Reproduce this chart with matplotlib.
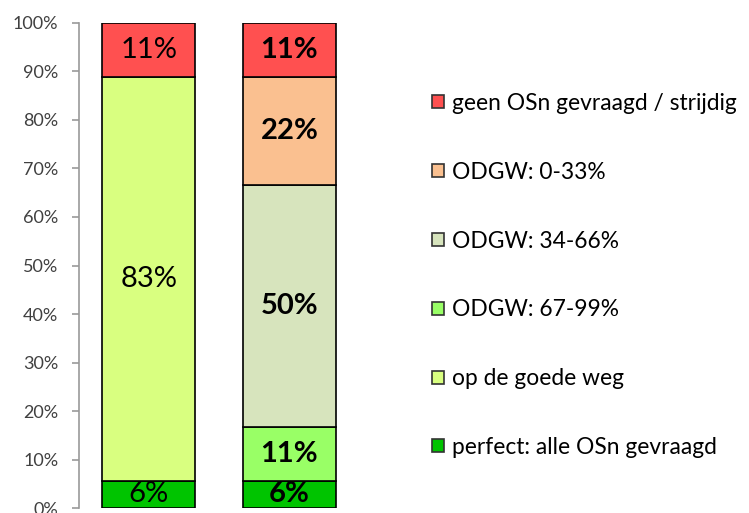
import numpy as np
import matplotlib
matplotlib.use("Agg")
import matplotlib.pyplot as plt
from matplotlib.patches import Patch

plt.rcParams['font.family'] = ['Lato', 'DejaVu Sans']

# categorieen (van onder naar boven)
categorieen = ["perfect: alle OSn gevraagd", "op de goede weg", "ODGW: 67-99%",
               "ODGW: 34-66%", "ODGW: 0-33%", "geen OSn gevraagd / strijdig"]
kleuren = ["#00C400", "#D9FF80", "#99FF66", "#D7E4BD", "#FAC090", "#FF5050"]

# percentages per staaf
staaf_1 = [5.6, 83.3, 0, 0, 0, 11.1]
staaf_2 = [5.6, 0, 11.1, 50.0, 22.2, 11.1]
labels_1 = ["6%", "83%", "", "", "", "11%"]
labels_2 = ["6%", "", "11%", "50%", "22%", "11%"]

fig = plt.figure(figsize=(7.49, 5.13), dpi=100)
ax = fig.add_axes([0.1055, 0.0097, 0.45, 0.9455])

x = np.array([0, 1])
breedte = 0.662
onder = np.zeros(2)
for i, cat in enumerate(categorieen):
    waarden = np.array([staaf_1[i], staaf_2[i]])
    for j in range(2):
        if waarden[j] > 0:
            ax.bar(x[j], waarden[j], breedte, bottom=onder[j], color=kleuren[i],
                   edgecolor="black", linewidth=1.2)
    # labels
    if labels_1[i]:
        ax.text(x[0], onder[0] + waarden[0] / 2, labels_1[i], ha="center", va="center",
                fontsize=21, color="black")
    if labels_2[i]:
        ax.text(x[1], onder[1] + waarden[1] / 2, labels_2[i], ha="center", va="center",
                fontsize=21, color="black", fontweight="bold")
    onder += waarden

ax.set_xlim(-0.495, 1.9)
ax.set_ylim(0, 100)
ax.set_yticks(range(0, 101, 10))
ax.set_yticklabels([f"{v}%" for v in range(0, 101, 10)], fontsize=13, color="#404040")
ax.tick_params(axis="y", length=5, color="#999999", width=1.2, pad=10)
ax.set_xticks([])
for kant in ["top", "right", "bottom"]:
    ax.spines[kant].set_visible(False)
ax.spines["left"].set_color("#999999")
ax.spines["left"].set_linewidth(1.2)

# legenda, rood bovenaan
handles = [Patch(facecolor=kleuren[i], edgecolor="#333333", linewidth=1.2)
           for i in range(len(categorieen))][::-1]
fig.legend(handles, categorieen[::-1], loc="center left",
           bbox_to_anchor=(0.562, 0.463), frameon=False, fontsize=16.4,
           labelspacing=2.1, handlelength=0.5, handleheight=0.5,
           handletextpad=0.35, borderpad=0)

plt.savefig("out.png", dpi=100)
